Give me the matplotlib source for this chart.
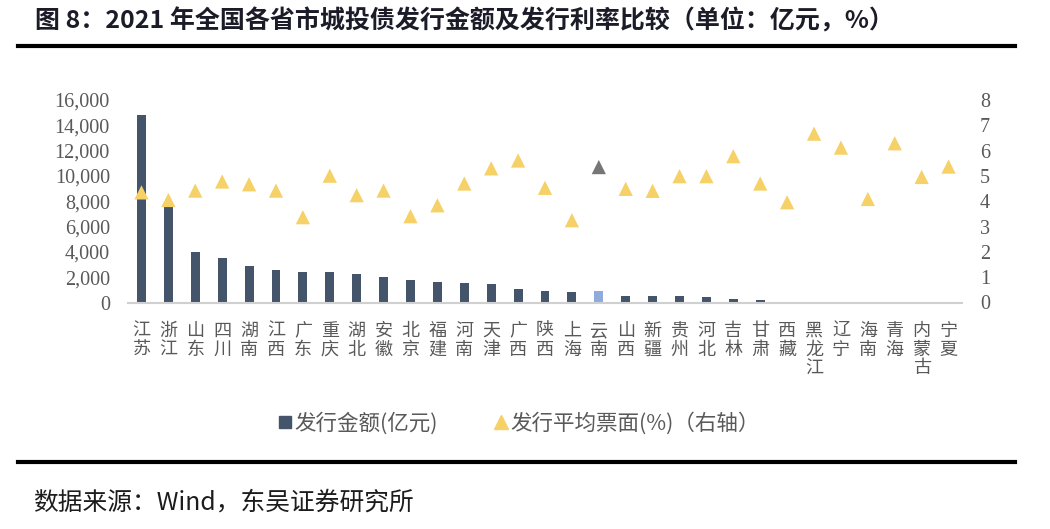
import matplotlib
matplotlib.use("Agg")
import matplotlib.pyplot as plt
from matplotlib.lines import Line2D
import numpy as np

plt.rcParams['font.family'] = ['Noto Sans CJK SC', 'DejaVu Sans']

# data
provinces = ['江苏', '浙江', '山东', '四川', '湖南', '江西', '广东', '重庆', '湖北', '安徽',
             '北京', '福建', '河南', '天津', '广西', '陕西', '上海', '云南', '山西', '新疆',
             '贵州', '河北', '吉林', '甘肃', '西藏', '黑龙江', '辽宁', '海南', '青海', '内蒙古', '宁夏']
amount = [14800, 7700, 4000, 3480, 2900, 2560, 2430, 2430, 2270, 2000,
          1800, 1610, 1530, 1480, 1060, 930, 850, 880, 550, 550,
          480, 470, 240, 180, 60, 0, 0, 0, 0, 0, 0]
coupon = [4.35, 4.05, 4.42, 4.78, 4.67, 4.42, 3.37, 5.01, 4.24, 4.42,
          3.41, 3.84, 4.70, 5.30, 5.61, 4.53, 3.25, 5.35, 4.49, 4.41,
          4.99, 4.99, 5.78, 4.70, 3.96, 6.67, 6.12, 4.09, 6.29, 4.96, 5.37]
left_ticks = [0, 2000, 4000, 6000, 8000, 10000, 12000, 14000, 16000]
right_ticks = [0, 1, 2, 3, 4, 5, 6, 7, 8]
highlight = '云南'

bar_color = '#44546A'
bar_hi = '#8FAADC'
tri_color = '#F5D167'
tri_hi = '#767676'
grey_txt = '#595959'

fig = plt.figure(figsize=(10.5, 5.29), dpi=100)
ax = fig.add_axes([128 / 1050, 1 - 302.5 / 529, 834 / 1050, 202.5 / 529])
ax2 = ax.twinx()

x = np.arange(len(provinces))
bcolors = [bar_hi if p == highlight else bar_color for p in provinces]
tcolors = [tri_hi if p == highlight else tri_color for p in provinces]

ax.bar(x, amount, width=0.33, color=bcolors, zorder=2)
ax2.scatter(x, coupon, marker='^', s=105, c=tcolors, linewidths=0, zorder=3)

ax.set_xlim(-0.5, len(provinces) - 0.5)
ax.set_ylim(0, 16000)
ax2.set_ylim(0, 8)
ax.set_yticks(left_ticks)
ax.set_yticklabels([f'{v:,}' for v in left_ticks])
ax2.set_yticks(right_ticks)
ax2.set_yticklabels([str(v) for v in right_ticks])

for a in (ax, ax2):
    for s in a.spines.values():
        s.set_visible(False)
    a.tick_params(length=0)
ax.spines['bottom'].set_visible(True)
ax.spines['bottom'].set_color('#D0D0D0')
ax.spines['bottom'].set_linewidth(1.5)

for lab in ax.get_yticklabels() + ax2.get_yticklabels():
    lab.set_family('Liberation Serif')
    lab.set_fontsize(14.5)
    lab.set_color(grey_txt)
ax.tick_params(axis='y', pad=13)
ax2.tick_params(axis='y', pad=13)

ax.set_xticks(x)
ax.set_xticklabels(['\n'.join(p) for p in provinces], fontsize=13, color=grey_txt,
                   linespacing=1.05, va='top')
ax.tick_params(axis='x', pad=14)

# legend
handles = [Line2D([], [], marker='s', color=bar_color, linestyle='none', markersize=8),
           Line2D([], [], marker='^', color=tri_color, linestyle='none', markersize=10)]
fig.legend(handles, ['发行金额(亿元)', '发行平均票面(%)（右轴）'], loc='center',
           bbox_to_anchor=(519 / 1050, 1 - 423 / 529), ncol=2, frameon=False,
           fontsize=15.5, labelcolor=grey_txt, handlelength=0.6, handletextpad=0.15,
           columnspacing=2.6)

# title, rules and source
fig.text(35 / 1050, 1 - 21 / 529, '图 8：2021 年全国各省市城投债发行金额及发行利率比较（单位：亿元，%）',
         fontsize=18, fontweight='bold', color='#1c1c28', va='center', ha='left')
fig.add_artist(Line2D([18 / 1050, 1015 / 1050], [1 - 46 / 529] * 2, color='black', lw=3))
fig.add_artist(Line2D([18 / 1050, 1015 / 1050], [1 - 462 / 529] * 2, color='black', lw=3))
fig.text(33 / 1050, 1 - 503 / 529, '数据来源：Wind，东吴证券研究所', fontsize=17.8,
         color='#1c1c1c', va='center', ha='left')

fig.savefig('out.png', dpi=100)
